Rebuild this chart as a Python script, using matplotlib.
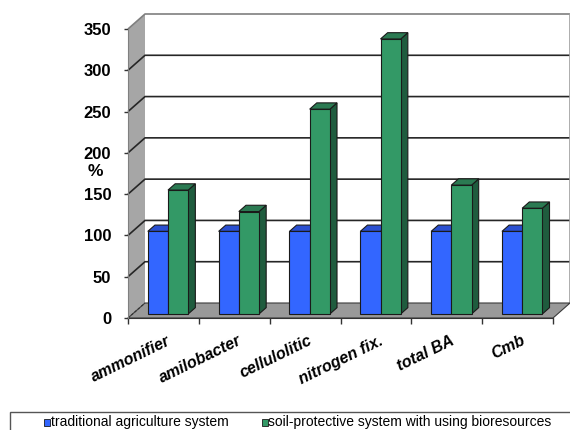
import matplotlib
matplotlib.use("Agg")
import matplotlib.pyplot as plt
from matplotlib.patches import Polygon, Rectangle

# ---- data ----
categories = ["ammonifier", "amilobacter", "cellulolitic", "nitrogen fix.", "total BA", "Cmb"]
traditional = [100, 100, 100, 100, 100, 100]
soil_protective = [150, 124, 248, 333, 156, 128]
series_names = ["traditional agriculture system",
                "soil-protective system with using bioresources"]
y_ticks = [0, 50, 100, 150, 200, 250, 300, 350]

plt.rcParams['font.family'] = ['Liberation Sans', 'DejaVu Sans']

W, H = 570, 430
fig = plt.figure(figsize=(W / 100, H / 100), dpi=100)


def fx(px):
    return px / W


def fy(py):
    return 1 - py / H


# front plane of the 3-D box, in pixels
x0, x1, ytop, ybot = 128, 553, 29, 318
ax = fig.add_axes([fx(x0), fy(ybot), fx(x1) - fx(x0), fy(ytop) - fy(ybot)])
n = len(categories)
ymax = y_ticks[-1]
ax.set_xlim(0, n)
ax.set_ylim(0, ymax)
ax.patch.set_visible(False)

ux = n / (x1 - x0)            # data units per pixel (x)
uy = ymax / (ybot - ytop)     # data units per pixel (y)
DX, DY = 17 * ux, 15 * uy     # depth of the box

# walls and floor
ax.add_patch(Polygon([(0, 0), (DX, DY), (DX, ymax + DY), (0, ymax)],
                     closed=True, facecolor='#a6a6a6', edgecolor='none',
                     zorder=0, clip_on=False))
ax.add_patch(Polygon([(0, 0), (n, 0), (n + DX, DY), (DX, DY)], closed=True,
                     facecolor='#999999', edgecolor='#3a3a3a', lw=0.8,
                     zorder=1, clip_on=False))
ax.plot([0, DX], [0, DY], color='#333333', lw=0.8, ls=(0, (2, 2)),
        zorder=1.1, clip_on=False)

for v in y_ticks[1:]:
    col = '#262626' if v < ymax else '#7f7f7f'
    ax.plot([0, DX, n + DX], [v, v + DY, v + DY], color=col, lw=1.2,
            zorder=0.5, clip_on=False, solid_capstyle='butt')
ax.plot([n + DX, n + DX], [DY, ymax + DY], color='#a0a0a0', lw=1.2,
        zorder=0.5, clip_on=False)

# bars with top and side faces
f1, f2 = 0.27, 0.69
ox, oy = f1 * DX, f1 * DY
ddx, ddy = (f2 - f1) * DX, (f2 - f1) * DY
bw = 20.2 * ux
group_left = 0.5 - bw

styles = [
    dict(front='#3366ff', top='#2a4fd0', side='#1f3ca8'),
    dict(front='#339966', top='#2b7a52', side='#1f5c3e'),
]
series = [traditional, soil_protective]

for s, (vals, st) in enumerate(zip(series, styles)):
    z = 3 + s
    lefts = [i + group_left + s * bw + ox for i in range(n)]
    ax.bar(lefts, vals, width=bw, bottom=oy, align='edge',
           color=st['front'], edgecolor='#1a1a1a', lw=0.8,
           zorder=z + 0.5, clip_on=False)
    for xl, v in zip(lefts, vals):
        xr = xl + bw
        top = oy + v
        ax.add_patch(Polygon([(xr, oy), (xr + ddx, oy + ddy),
                              (xr + ddx, top + ddy), (xr, top)], closed=True,
                             facecolor=st['side'], edgecolor='#1a1a1a', lw=0.8,
                             zorder=z, clip_on=False))
        ax.add_patch(Polygon([(xl, top), (xr, top), (xr + ddx, top + ddy),
                              (xl + ddx, top + ddy)], closed=True,
                             facecolor=st['top'], edgecolor='#1a1a1a', lw=0.8,
                             zorder=z, clip_on=False))

# axes
for side in ('top', 'right'):
    ax.spines[side].set_visible(False)
ax.spines['left'].set_color('#808080')
ax.spines['bottom'].set_color('#333333')
ax.spines['bottom'].set_zorder(2)

ax.set_yticks(y_ticks)
ax.set_yticklabels([str(v) for v in y_ticks], fontsize=12, fontweight='bold')
ax.tick_params(axis='y', length=3, width=1, color='#333333', pad=9)
ax.set_xticks(range(n + 1))
ax.set_xticklabels([''] * (n + 1))
ax.tick_params(axis='x', length=4, width=1, color='#333333')

for i, cat in enumerate(categories):
    ax.text(i + 0.5 + 3 * ux, -15 * uy, cat, rotation=26, ha='right', va='top',
            rotation_mode='anchor', fontsize=11.5, fontweight='bold',
            fontstyle='italic', clip_on=False)

fig.text(fx(95), fy(172), '%', ha='center', va='center', fontsize=12.5,
         fontweight='bold')

# legend box
fig.add_artist(Rectangle((fx(10), fy(445)), fx(600) - fx(10), fy(412) - fy(445),
                         transform=fig.transFigure, fill=False,
                         edgecolor='#555555', lw=1))
marker_x = [44.3, 262]
for mx, name, st in zip(marker_x, series_names, styles):
    fig.add_artist(Rectangle((fx(mx), fy(425.5)), 5.5 / W, 6.5 / H,
                             transform=fig.transFigure, facecolor=st['front'],
                             edgecolor='#1a1a1a', lw=0.6))
    fig.text(fx(mx + 6.5), fy(422), name, ha='left', va='center', fontsize=10)

fig.savefig('out.png', dpi=100)
